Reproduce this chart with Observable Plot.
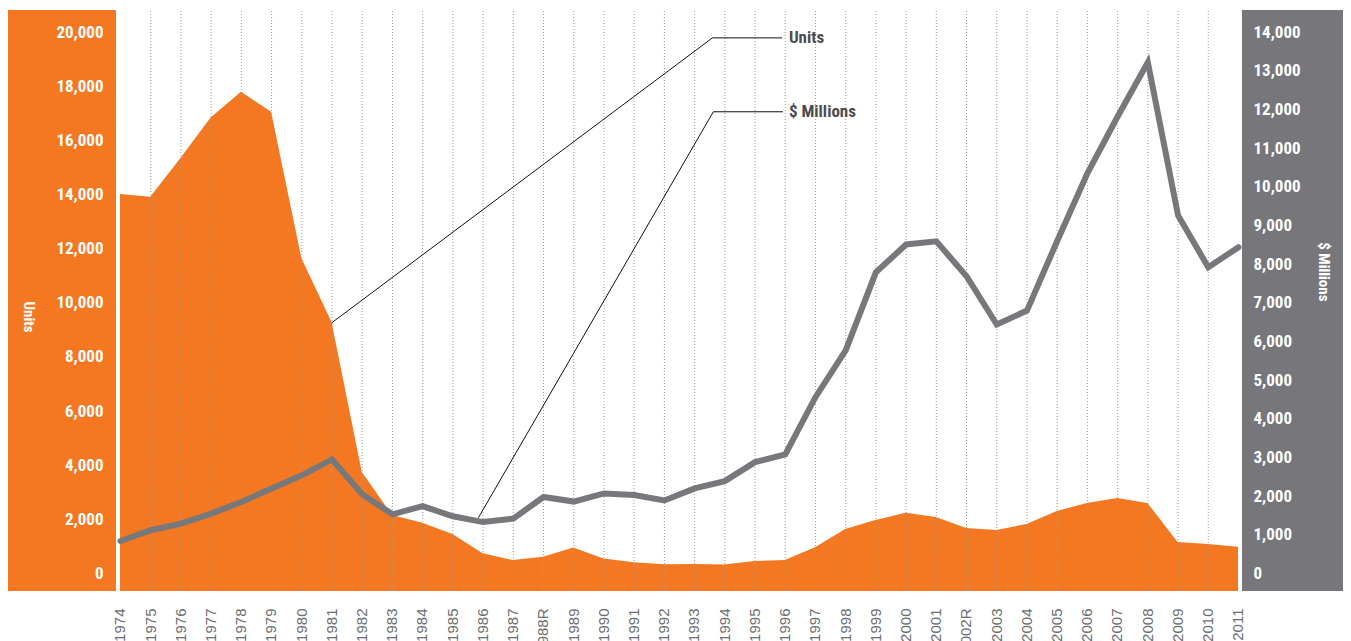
<!DOCTYPE html>
<html><head><meta charset="utf-8">
<script src="https://cdn.jsdelivr.net/npm/d3@7"></script>
<script src="https://cdn.jsdelivr.net/npm/@observablehq/plot@0.6"></script>
<style>
body{margin:0;background:#fff;}
#chart{position:relative;width:1351px;height:641px;overflow:hidden}
#chart svg{display:block}
</style></head><body><div id="chart"></div>
<script>
// ---- data ----
const years = [1974,1975,1976,1977,1978,1979,1980,1981,1982,1983,1984,1985,1986,1987,1988,1989,1990,1991,1992,1993,1994,1995,1996,1997,1998,1999,2000,2001,2002,2003,2004,2005,2006,2007,2008,2009,2010,2011];
const yearLabels = ["1974","1975","1976","1977","1978","1979","1980","1981","1982","1983","1984","1985","1986","1987","1988R","1989","1990","1991","1992","1993","1994","1995","1996","1997","1998","1999","2000","2001","2002R","2003","2004","2005","2006","2007","2008","2009","2010","2011"];
const units = [14000,13900,15330,16830,17780,17040,11640,9270,3740,2140,1860,1440,730,480,600,940,540,400,320,330,310,440,480,950,1630,1960,2230,2070,1660,1590,1810,2290,2590,2770,2590,1150,1070,970];
const dollars = [840,1120,1290,1550,1850,2200,2540,2950,2050,1530,1740,1480,1330,1420,1980,1860,2070,2030,1890,2200,2390,2880,3080,4560,5770,7790,8510,8590,7690,6440,6800,8600,10350,11820,13220,9260,7920,8440];
const unitTicks = [0,2000,4000,6000,8000,10000,12000,14000,16000,18000,20000];
const dollarTicks = [0,1000,2000,3000,4000,5000,6000,7000,8000,9000,10000,11000,12000,13000,14000];
const unitsMax = 20000, dollarsMax = 14000;
// callouts (in Units-axis data coordinates)
const calloutUnits = [{year:1981, v:9270},{year:1993.59, v:19790},{year:1995.88, v:19790}];
const calloutDollars = [{year:1985.85, v:2070},{year:1993.62, v:17060},{year:1995.91, v:17060}];
const calloutLabels = [{year:1996.12, v:19790, text:"Units"},{year:1996.12, v:17060, text:"$ Millions"}];
const unitsFloor = -665;

// ---- style ----
const ORANGE = "#f47721", GRAY = "#77787b", PANEL_GRAY = "#77777b", TXT = "#4d4d4f";
const NARROW = "'Liberation Sans Narrow','Roboto Condensed','DejaVu Sans Condensed',sans-serif";

const k = unitsMax / dollarsMax;
const data = years.map((y,i)=>({year:y, units:units[i], dollars:dollars[i]}));
const labelOf = new Map(years.map((y,i)=>[y, yearLabels[i]]));
const fmt = d3.format(",");

const plot = Plot.plot({
  width:1351, height:641,
  marginLeft:118, marginRight:111, marginTop:11, marginBottom:50,
  style:{background:"transparent", overflow:"visible"},
  x:{domain:[1974,2011], range:[120,1238]},
  y:{domain:[0,unitsMax], range:[573,31.7]},
  marks:[
    Plot.areaY(data,{x:"year", y1:()=>unitsFloor, y2:"units", fill:ORANGE, curve:"linear"}),
    Plot.ruleX(years.slice(1,-1),{stroke:"#9d9d9d", strokeWidth:1, strokeDasharray:"1,2"}),
    Plot.lineY(data,{x:"year", y:d=>d.dollars*k, stroke:GRAY, strokeWidth:6, strokeLinejoin:"miter", strokeMiterlimit:10}),
    Plot.line(calloutUnits,{x:"year", y:"v", stroke:"#111", strokeWidth:1}),
    Plot.line(calloutDollars,{x:"year", y:"v", stroke:"#111", strokeWidth:1}),
    Plot.text(calloutLabels,{x:"year", y:"v", text:"text", textAnchor:"start", lineAnchor:"middle", fill:TXT, fontSize:17, fontWeight:"bold", fontFamily:NARROW}),
    Plot.axisY(unitTicks,{anchor:"left", label:null, tickSize:0, tickPadding:15, tickFormat:fmt, color:"white", fontSize:17, fontWeight:"bold", fontFamily:NARROW}),
    Plot.axisY(dollarTicks.map(d=>d*k),{anchor:"right", label:null, tickSize:0, tickPadding:13, tickFormat:v=>fmt(Math.round(v/k)), color:"white", fontSize:17, fontWeight:"bold", fontFamily:NARROW}),
    Plot.axisX(years,{anchor:"bottom", label:null, tickSize:0, tickRotate:-90, tickPadding:17, tickFormat:d=>labelOf.get(d), color:"#6d6e71", fontSize:15, fontFamily:"'Liberation Sans',sans-serif"}),
    Plot.text(["Units"],{frameAnchor:"left", dx:-90, rotate:90, text:d=>d, fill:"white", fontSize:15, fontWeight:"bold", fontFamily:NARROW}),
    Plot.text(["$ Millions"],{frameAnchor:"right", dx:83, rotate:90, text:d=>d, fill:"white", fontSize:15, fontWeight:"bold", fontFamily:NARROW})
  ]
});

// side panels (background decoration)
const svg = d3.select(plot);
const bg = svg.insert("g", ":first-child");
bg.append("rect").attr("x",8).attr("y",10).attr("width",108).attr("height",581).attr("fill",ORANGE);
bg.append("rect").attr("x",1242).attr("y",10).attr("width",101).attr("height",581).attr("fill",PANEL_GRAY);
document.getElementById("chart").appendChild(plot);
</script></body></html>
